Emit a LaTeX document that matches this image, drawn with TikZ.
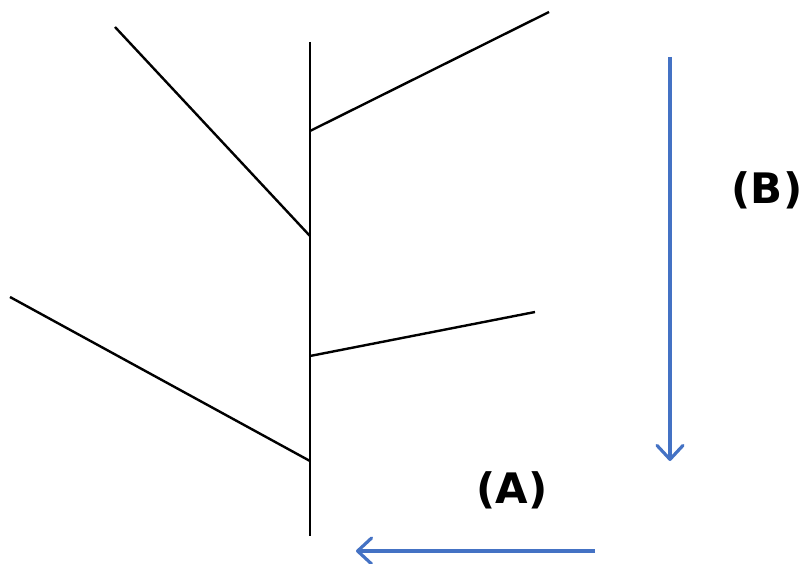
\documentclass[tikz,border=0pt]{standalone}
\usepackage{fontspec}
\setmainfont{DejaVu Sans}
\usetikzlibrary{arrows.meta}
\begin{document}
\begin{tikzpicture}[x=1pt,y=-1pt,
  stem/.style={draw=black,line width=2.4pt},
  flow/.style={draw={rgb,255:red,68;green,114;blue,196},line width=3.2pt,
    -{Straight Barb[length=14pt,width=26pt,line width=3.2pt,round]}},
  lbl/.style={font=\bfseries\fontsize{42}{50}\selectfont,inner sep=0pt}]
\useasboundingbox (0,0) rectangle (801,564);
\coordinate (t0) at (310,42);
\coordinate (t1) at (310,536);
\coordinate (j1) at (310,131);
\coordinate (e1) at (549,12);
\coordinate (j2) at (310,236);
\coordinate (e2) at (115,27);
\coordinate (j3) at (310,356);
\coordinate (e3) at (535,312);
\coordinate (j4) at (310,461);
\coordinate (e4) at (10,297);
\coordinate (b0) at (670,57);
\coordinate (b1) at (670,461);
\coordinate (a0) at (595,551);
\coordinate (a1) at (356,551);
\path[stem] (t0) -- (t1);
\path[stem] (j1) -- (e1);
\path[stem] (j2) -- (e2);
\path[stem] (j3) -- (e3);
\path[stem] (j4) -- (e4);
\path[flow] (b0) -- (b1);
\path[flow] (a0) -- (a1);
\node[lbl] (B) at (767,190) {(B)};
\node[lbl] (A) at (512,490) {(A)};
\end{tikzpicture}
\end{document}
